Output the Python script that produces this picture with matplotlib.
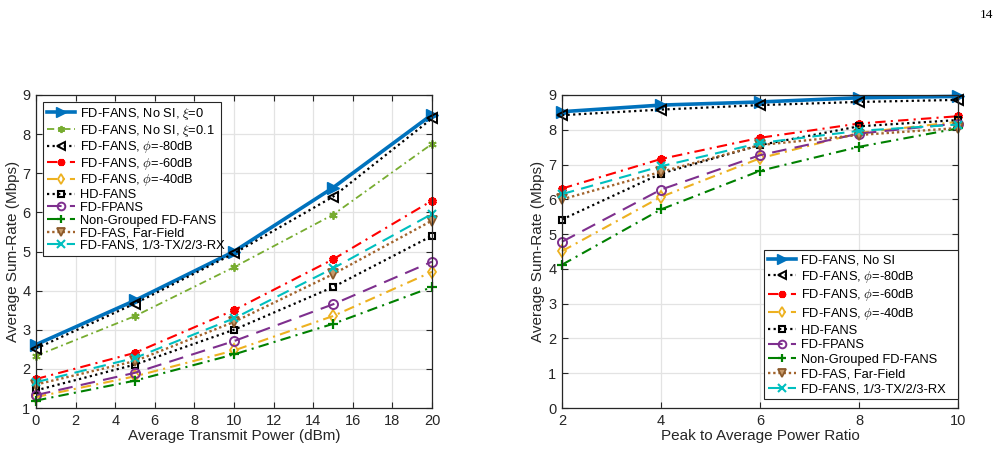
import matplotlib
matplotlib.use("Agg")
import matplotlib.pyplot as plt
import numpy as np

plt.rcParams['font.family'] = ['Liberation Sans', 'DejaVu Sans']
plt.rcParams['mathtext.fontset'] = 'cm'

# ---------------- data ----------------
power_dbm = [0, 5, 10, 15, 20]
papr = [2, 4, 6, 8, 10]

left_labels = [
    r"FD-FANS, No SI, $\xi$=0",
    r"FD-FANS, No SI, $\xi$=0.1",
    r"FD-FANS, $\phi$=-80dB",
    r"FD-FANS, $\phi$=-60dB",
    r"FD-FANS, $\phi$=-40dB",
    "HD-FANS",
    "FD-FPANS",
    "Non-Grouped FD-FANS",
    "FD-FAS, Far-Field",
    "FD-FANS, 1/3-TX/2/3-RX",
]
nosi_xi0_left = [2.62, 3.75, 5.00, 6.63, 8.50]
nosi_xi01_left = [2.33, 3.35, 4.60, 5.94, 7.75]
phi80_left = [2.52, 3.67, 4.95, 6.40, 8.40]
phi60_left = [1.74, 2.41, 3.50, 4.80, 6.30]
phi40_left = [1.28, 1.81, 2.47, 3.35, 4.48]
hd_left = [1.45, 2.11, 3.00, 4.09, 5.40]
fpans_left = [1.33, 1.90, 2.71, 3.65, 4.74]
nongroup_left = [1.19, 1.70, 2.37, 3.15, 4.09]
farfield_left = [1.60, 2.20, 3.20, 4.42, 5.79]
split_left = [1.66, 2.28, 3.29, 4.57, 5.96]

right_labels = [
    "FD-FANS, No SI",
    r"FD-FANS, $\phi$=-80dB",
    r"FD-FANS, $\phi$=-60dB",
    r"FD-FANS, $\phi$=-40dB",
    "HD-FANS",
    "FD-FPANS",
    "Non-Grouped FD-FANS",
    "FD-FAS, Far-Field",
    "FD-FANS, 1/3-TX/2/3-RX",
]
nosi_right = [8.52, 8.71, 8.80, 8.92, 8.96]
phi80_right = [8.42, 8.58, 8.71, 8.80, 8.86]
phi60_right = [6.31, 7.16, 7.77, 8.18, 8.39]
phi40_right = [4.51, 6.07, 7.18, 7.91, 8.23]
hd_right = [5.42, 6.74, 7.56, 8.10, 8.28]
fpans_right = [4.78, 6.28, 7.27, 7.89, 8.18]
nongroup_right = [4.12, 5.71, 6.82, 7.51, 8.04]
farfield_right = [6.00, 6.79, 7.56, 7.85, 8.05]
split_right = [6.15, 6.95, 7.62, 7.97, 8.15]

# ---------------- styles ----------------
ast = (6, 2, 0)
dd = (0, (5, 2.5, 1, 2.5))
st = {
    "nosi": dict(color="#0072BD", ls="-", lw=2.6, marker=">", ms=8, mfc="#0072BD", mec="#0072BD"),
    "xi01": dict(color="#77AC30", ls=(0, (4, 2, 1, 2)), lw=1.3, marker=ast, ms=6, mec="#77AC30", mew=1.3),
    "phi80": dict(color="black", ls=(0, (1, 1.5)), lw=1.6, marker="<", ms=7, mfc="none", mec="black", mew=1.4),
    "phi60": dict(color="red", ls=dd, lw=1.5, marker=ast, ms=6, mec="red", mfc="red", mew=2.4),
    "phi40": dict(color="#EDB120", ls=dd, lw=1.5, marker="d", ms=6, mfc="none", mec="#EDB120", mew=1.3),
    "hd": dict(color="black", ls=(0, (1, 1.5)), lw=1.6, marker="s", ms=5, mfc="none", mec="black", mew=1.5),
    "fpans": dict(color="#7E2F8E", ls=(0, (7, 4)), lw=1.5, marker="o", ms=6.5, mfc="none", mec="#7E2F8E", mew=1.4),
    "nong": dict(color="#008000", ls=dd, lw=1.5, marker="+", ms=7, mec="#008000", mew=1.6),
    "far": dict(color="#A2642D", ls=(0, (1, 1.2)), lw=1.7, marker="v", ms=7, mfc="#C89A6A", mec="#8B5A2B", mew=1.3),
    "split": dict(color="#00BFBF", ls=(0, (6, 3.5)), lw=1.5, marker="x", ms=6, mec="#00BFBF", mew=1.5),
}

W, H = 1004, 463
fig = plt.figure(figsize=(W / 100, H / 100), dpi=100)
axL = fig.add_axes([36 / W, 1 - 408 / H, (432 - 36) / W, (408 - 95) / H])
axR = fig.add_axes([562 / W, 1 - 408 / H, (958 - 562) / W, (408 - 95) / H])

left_series = [
    ("nosi", nosi_xi0_left), ("xi01", nosi_xi01_left), ("phi80", phi80_left),
    ("phi60", phi60_left), ("phi40", phi40_left), ("hd", hd_left),
    ("fpans", fpans_left), ("nong", nongroup_left), ("far", farfield_left),
    ("split", split_left),
]
right_series = [
    ("nosi", nosi_right), ("phi80", phi80_right), ("phi60", phi60_right),
    ("phi40", phi40_right), ("hd", hd_right), ("fpans", fpans_right),
    ("nong", nongroup_right), ("far", farfield_right), ("split", split_right),
]

for (key, vals), lab in zip(left_series, left_labels):
    axL.plot(power_dbm, vals, label=lab, clip_on=False, **st[key])
for (key, vals), lab in zip(right_series, right_labels):
    axR.plot(papr, vals, label=lab, clip_on=False, **st[key])

tc = "#262626"
for ax in (axL, axR):
    ax.grid(True, color="#E3E3E3", lw=0.9)
    ax.set_axisbelow(True)
    ax.tick_params(direction="in", top=True, right=True, labelsize=10.5, colors=tc, length=4, width=0.8, pad=4)
    for s in ax.spines.values():
        s.set_color(tc)
        s.set_linewidth(0.9)
    ax.set_ylabel("Average Sum-Rate (Mbps)", fontsize=11, color=tc, labelpad=2)

axL.set_xlim(0, 20)
axL.set_ylim(1, 9)
axL.set_xticks(np.arange(0, 21, 2))
axL.set_yticks(np.arange(1, 10, 1))
axL.set_xlabel("Average Transmit Power (dBm)", fontsize=11, color=tc, labelpad=1)

axR.set_xlim(2, 10)
axR.set_ylim(0, 9)
axR.set_xticks([2, 4, 6, 8, 10])
axR.set_yticks(np.arange(0, 10, 1))
axR.set_xlabel("Peak to Average Power Ratio", fontsize=11, color=tc, labelpad=1)

legkw = dict(fontsize=9.3, frameon=True, fancybox=False, edgecolor=tc, framealpha=1,
             handlelength=2.2, handletextpad=0.35, borderpad=0.3, borderaxespad=0.0,
             markerscale=0.85, mode="expand")
# legend boxes in figure coordinates
legL = fig.legend(*axL.get_legend_handles_labels(), loc="upper left",
                  bbox_to_anchor=(43 / W, 0, (221 - 43) / W, 1 - 102 / H),
                  labelspacing=0.05, **legkw)
legR = fig.legend(*axR.get_legend_handles_labels(), loc="lower left",
                  bbox_to_anchor=(764 / W, 1 - 399 / H, (958 - 764) / W, 0.3),
                  labelspacing=0.2, **legkw)
for lg in (legL, legR):
    lg.get_frame().set_linewidth(0.8)

fig.text(993 / W, 1 - 15 / H, "14", ha="right", va="center", fontsize=9.5,
         family=["Liberation Serif", "DejaVu Serif"], color="black")

fig.savefig("out.png", dpi=100)
